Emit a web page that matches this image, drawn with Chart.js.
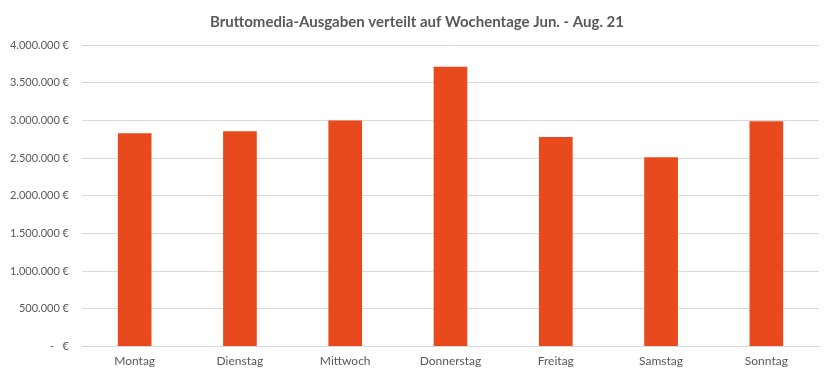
<!DOCTYPE html>
<html>
<head>
<meta charset="utf-8">
<script src="https://cdn.jsdelivr.net/npm/chart.js@4"></script>
<style>
  html, body { margin: 0; padding: 0; background: #fff; }
  #wrap { width: 834px; height: 379px; }
</style>
</head>
<body>
<div id="wrap"><canvas id="c" width="834" height="379"></canvas></div>
<script>
const categories = ["Montag", "Dienstag", "Mittwoch", "Donnerstag", "Freitag", "Samstag", "Sonntag"];
const spend = [2830000, 2855000, 3000000, 3710000, 2780000, 2510000, 2990000];
const title = "Bruttomedia-Ausgaben verteilt auf Wochentage Jun. - Aug. 21";
const yTicks = [0, 500000, 1000000, 1500000, 2000000, 2500000, 3000000, 3500000, 4000000];

function fmtEuro(v) {
  if (v === 0) return "-   €";
  return v.toString().replace(/\B(?=(\d{3})+(?!\d))/g, ".") + " €";
}

const FONT = "'Lato', sans-serif";

new Chart(document.getElementById("c"), {
  type: "bar",
  data: {
    labels: categories,
    datasets: [{
      data: spend,
      backgroundColor: "#E8491D",
      borderWidth: 0,
      barPercentage: 0.64,
      categoryPercentage: 0.5
    }]
  },
  options: {
    responsive: false,
    animation: false,
    devicePixelRatio: 1,
    layout: { padding: { left: 0, right: 0, top: 5, bottom: 4 } },
    plugins: {
      legend: { display: false },
      tooltip: { enabled: false },
      title: {
        display: true,
        text: title,
        color: "#595959",
        font: { family: FONT, size: 15, weight: "bold" },
        padding: { top: 8, bottom: 14 }
      }
    },
    scales: {
      x: {
        grid: { display: false, drawTicks: false },
        border: { display: true, color: "#d9d9d9", width: 1 },
        ticks: { color: "#595959", font: { family: FONT, size: 12 }, padding: 7 }
      },
      y: {
        min: 0,
        max: 4000000,
        afterFit: (s) => { s.width = 82; },
        afterBuildTicks: (s) => { s.ticks = yTicks.map(v => ({ value: v })); },
        grid: { color: "#d9d9d9", drawTicks: false },
        border: { display: false },
        ticks: {
          color: "#595959",
          font: { family: FONT, size: 11 },
          padding: 13,
          callback: (v) => fmtEuro(v)
        }
      },
      yRight: {
        position: "right",
        min: 0,
        max: 4000000,
        afterFit: (s) => { s.width = 15; },
        grid: { display: false, drawTicks: false },
        border: { display: false },
        ticks: { display: false }
      }
    }
  }
});
</script>
</body>
</html>
